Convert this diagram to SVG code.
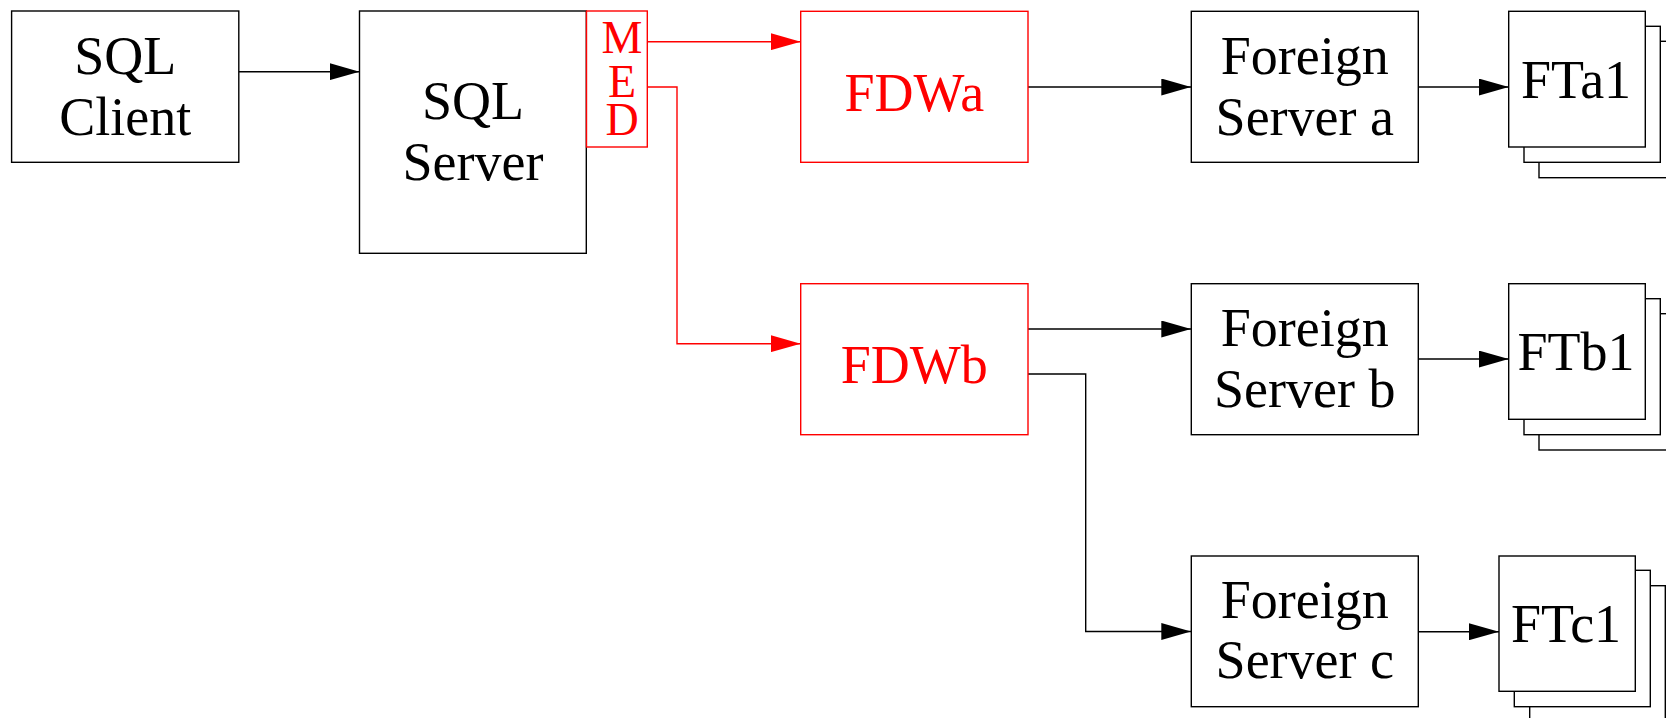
<svg xmlns="http://www.w3.org/2000/svg" width="1666" height="718" viewBox="0 0 1666 718">
<defs>
<style>
.box{fill:#fff;stroke:#000;stroke-width:1.4}
.rbox{fill:#fff;stroke:#f00;stroke-width:1.4}
.t{font-family:"Liberation Serif","Times New Roman",serif;font-size:54px;fill:#000;text-anchor:middle}
.rt{font-family:"Liberation Serif","Times New Roman",serif;font-size:54px;fill:#f00;text-anchor:middle}
.med{font-family:"Liberation Serif","Times New Roman",serif;font-size:46px;fill:#f00;text-anchor:middle}
.c{fill:none;stroke:#000;stroke-width:1.4}
.rc{fill:none;stroke:#f00;stroke-width:1.4}
</style>
<marker id="ah" markerUnits="userSpaceOnUse" markerWidth="30" markerHeight="17" refX="30" refY="8.5" orient="auto">
<path d="M0,0 L30,8.5 L0,17 z" fill="#000"/>
</marker>
<marker id="ahr" markerUnits="userSpaceOnUse" markerWidth="30" markerHeight="17" refX="30" refY="8.5" orient="auto">
<path d="M0,0 L30,8.5 L0,17 z" fill="#f00"/>
</marker>
</defs>
<rect width="1666" height="718" fill="#fff"/>

<g id="connectors">
<path class="c" d="M239,71.7 H359.5" marker-end="url(#ah)"/>
<path class="rc" d="M647.3,41.7 H800.7" marker-end="url(#ahr)"/>
<path class="rc" d="M647.3,87 H677 V343.7 H800.7" marker-end="url(#ahr)"/>
<path class="c" d="M1028,87 H1191.3" marker-end="url(#ah)"/>
<path class="c" d="M1028,329 H1191.3" marker-end="url(#ah)"/>
<path class="c" d="M1028,374 H1085.7 V631.5 H1191.3" marker-end="url(#ah)"/>
<path class="c" d="M1418.3,87 H1508.7" marker-end="url(#ah)"/>
<path class="c" d="M1418.3,359 H1508.7" marker-end="url(#ah)"/>
<path class="c" d="M1418.3,631.7 H1499" marker-end="url(#ah)"/>
</g>

<g id="sql-client">
<rect class="box" x="11.6" y="11" width="227.2" height="151.3"/>
<text class="t" x="125.2" y="74">SQL</text>
<text class="t" x="125.2" y="135">Client</text>
</g>

<g id="sql-server">
<rect class="box" x="359.5" y="11" width="226.8" height="242.3"/>
<text class="t" x="473" y="119">SQL</text>
<text class="t" x="473" y="180">Server</text>
</g>

<g id="med">
<rect class="rbox" x="586.5" y="11" width="60.8" height="136"/>
<text class="med"><tspan x="622" y="53.3">M</tspan><tspan x="622" y="96.7">E</tspan><tspan x="622" y="135">D</tspan></text>
</g>

<g id="fdwa">
<rect class="rbox" x="800.7" y="11.3" width="227.3" height="151"/>
<text class="rt" x="914.3" y="111">FDWa</text>
</g>

<g id="fdwb">
<rect class="rbox" x="800.7" y="283.7" width="227.3" height="151"/>
<text class="rt" x="914.3" y="382.7">FDWb</text>
</g>

<g id="foreign-server-a">
<rect class="box" x="1191.3" y="11.3" width="227" height="151"/>
<text class="t" x="1304.8" y="74">Foreign</text>
<text class="t" x="1304.8" y="135">Server a</text>
</g>

<g id="foreign-server-b">
<rect class="box" x="1191.3" y="283.7" width="227" height="151"/>
<text class="t" x="1304.8" y="345.7">Foreign</text>
<text class="t" x="1304.8" y="406.7">Server b</text>
</g>

<g id="foreign-server-c">
<rect class="box" x="1191.3" y="556" width="227" height="150.7"/>
<text class="t" x="1304.8" y="618.3">Foreign</text>
<text class="t" x="1304.8" y="678.3">Server c</text>
</g>

<g id="fta1">
<rect class="box" x="1539" y="41.3" width="136.6" height="136.4"/>
<rect class="box" x="1524" y="26.3" width="136.3" height="136"/>
<rect class="box" x="1508.7" y="11.3" width="136.6" height="135.7"/>
<text class="t" x="1576" y="98.3">FTa1</text>
</g>

<g id="ftb1">
<rect class="box" x="1539" y="313.7" width="136.6" height="136.3"/>
<rect class="box" x="1524" y="298.7" width="136.3" height="136"/>
<rect class="box" x="1508.7" y="283.7" width="136.6" height="135.6"/>
<text class="t" x="1576" y="370">FTb1</text>
</g>

<g id="ftc1">
<rect class="box" x="1529.7" y="585.7" width="135.6" height="136"/>
<rect class="box" x="1514.3" y="570.3" width="136" height="136.4"/>
<rect class="box" x="1499" y="556" width="136.3" height="135.3"/>
<text class="t" x="1566" y="641.7">FTc1</text>
</g>
</svg>
